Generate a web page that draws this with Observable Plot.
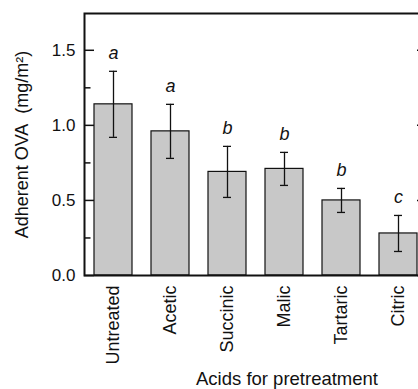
<!DOCTYPE html>
<html>
<head>
<meta charset="utf-8">
<script src="https://cdn.jsdelivr.net/npm/d3@7"></script>
<script src="https://cdn.jsdelivr.net/npm/@observablehq/plot@0.6"></script>
<style>
  html, body { margin: 0; padding: 0; overflow: hidden; background: #fff; width: 418px; height: 389px; }
  #chart { width: 418px; height: 389px; overflow: hidden; }
  #chart svg { display: block; max-width: none !important; width: 440px !important; height: 389px !important; }
</style>
</head>
<body>
<div id="chart"></div>
<script>
const acids = ["Untreated", "Acetic", "Succinic", "Malic", "Tartaric", "Citric"];
const means = [1.14, 0.96, 0.69, 0.71, 0.50, 0.28];
const errors = [0.22, 0.18, 0.17, 0.11, 0.08, 0.12];
const letters = ["a", "a", "b", "b", "b", "c"];
const majorTicks = [0, 0.5, 1.0, 1.5];
const minorTicks = [0.25, 0.75, 1.25];

const data = acids.map((acid, i) => ({
  acid, mean: means[i], lo: means[i] - errors[i], hi: means[i] + errors[i], letter: letters[i]
}));

const W = 440, H = 389, mL = 84, mR = 13, mT = 13, mB = 114;
const frameW = W - mL - mR;
const font = "'Liberation Sans', Arial, Helvetica, sans-serif";

const chart = Plot.plot({
  width: W,
  height: H,
  marginLeft: mL,
  marginRight: mR,
  marginTop: mT,
  marginBottom: mB,
  style: { fontFamily: font, color: "#111", background: "#fff", maxWidth: "none" },
  x: { domain: acids, paddingInner: 0.34, paddingOuter: 0.17, label: null },
  y: { domain: [0, 1.745], label: null },
  marks: [
    Plot.barY(data, { x: "acid", y: "mean", fill: "#c8c8c8", stroke: "#111", strokeWidth: 1.2 }),
    Plot.ruleX(data, { x: "acid", y1: "lo", y2: "hi", stroke: "#111", strokeWidth: 1.3 }),
    Plot.tickY(data, { x: "acid", y: "hi", inset: 15, stroke: "#111", strokeWidth: 1.3 }),
    Plot.tickY(data, { x: "acid", y: "lo", inset: 15, stroke: "#111", strokeWidth: 1.3 }),
    Plot.text(data, { x: "acid", y: "hi", text: "letter", dy: -18, lineAnchor: "middle", fontStyle: "italic", fontSize: 18, fill: "#111" }),
    Plot.tickY(majorTicks, { y: d => d, insetRight: frameW - 10, stroke: "#111", strokeWidth: 1.5 }),
    Plot.tickY(minorTicks, { y: d => d, insetRight: frameW - 6.5, stroke: "#111", strokeWidth: 1.5 }),
    Plot.tickY(majorTicks, { y: d => d, insetLeft: frameW - 10, stroke: "#111", strokeWidth: 1.5 }),
    Plot.tickY(minorTicks, { y: d => d, insetLeft: frameW - 6.5, stroke: "#111", strokeWidth: 1.5 }),
    Plot.axisY(majorTicks, { tickSize: 0, tickPadding: 9, fontSize: 17, tickFormat: d3.format(".1f"), label: null }),
    Plot.axisX({ tickSize: 0, tickPadding: 10, tickRotate: -90, fontSize: 18, label: null }),
    Plot.frame({ stroke: "#111", strokeWidth: 2 }),
    Plot.text(["Adherent OVA\u00a0\u00a0(mg/m\u00b2)"], { frameAnchor: "left", textAnchor: "middle", text: d => d, rotate: -90, dx: -62, lineAnchor: "middle", fontSize: 18, fill: "#111" }),
    Plot.text(["Acids for pretreatment"], { frameAnchor: "bottom", textAnchor: "middle", text: d => d, dx: 31, dy: 104, lineAnchor: "middle", fontSize: 18.5, fill: "#111" })
  ]
});
document.getElementById("chart").appendChild(chart);
</script>
</body>
</html>
